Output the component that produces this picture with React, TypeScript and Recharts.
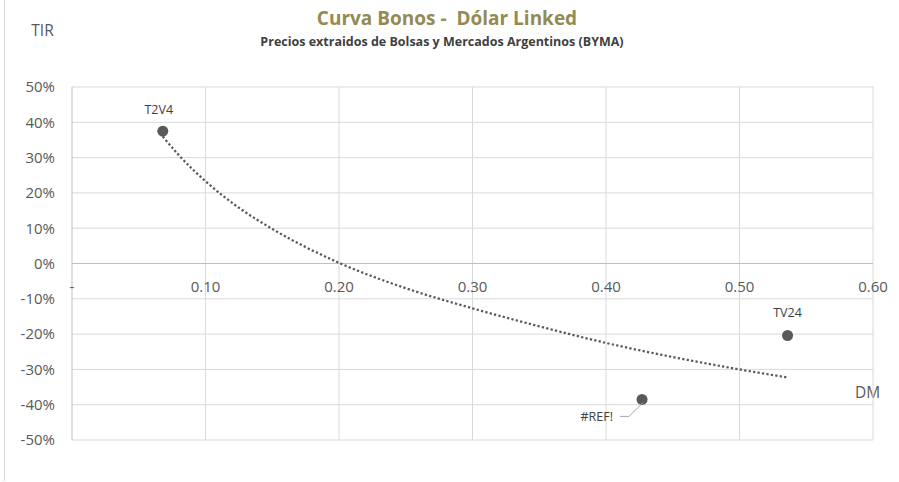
import { ComposedChart, Scatter, Line, XAxis, YAxis, CartesianGrid, ReferenceLine, ReferenceDot } from "recharts";

// bonos dolar linked: duracion modificada (DM) vs TIR
const bondNames = ["T2V4", "#REF!", "TV24"];
const bondDM = [0.068, 0.427, 0.536];
const bondTIR = [0.375, -0.385, -0.204];

// linea de tendencia (log)
const trendDM = [0.068, 0.08, 0.1, 0.125, 0.15, 0.2, 0.25, 0.3, 0.35, 0.4, 0.45, 0.5, 0.536];
const trendTIR = [0.36, 0.307, 0.233, 0.158, 0.098, 0.002, -0.07, -0.127, -0.178, -0.225, -0.265, -0.3, -0.323];

const xTicks = [0, 0.1, 0.2, 0.3, 0.4, 0.5, 0.6];
const yTicks = [-0.5, -0.4, -0.3, -0.2, -0.1, 0, 0.1, 0.2, 0.3, 0.4, 0.5];

const bonds = bondNames.map((name, i) => ({ name, x: bondDM[i], y: bondTIR[i] }));
const trend = trendDM.map((x, i) => ({ x, y: trendTIR[i] }));

const FONT = "'Open Sans', sans-serif";
const GRAY = "#595959";

const labelOffsets: Record<string, { dx: number; dy: number }> = {
    "T2V4": { dx: -4, dy: -17 },
    "TV24": { dx: 0, dy: -19 },
};

function BondDot(props: any) {
    const { cx, cy, payload } = props;
    if (cx == null || cy == null) return null;
    const name = payload.name;
    if (name === "#REF!") {
        return (
            <g>
                <circle cx={cx} cy={cy} r={5.5} fill={GRAY} />
                <polyline points={`${cx - 22},${cy + 17} ${cx - 13},${cy + 17} ${cx + 1},${cy + 3}`} fill="none" stroke="#a6a6a6" strokeWidth={1} />
                <text x={cx - 29} y={cy + 22} textAnchor="end" fontSize={12.5} fontFamily={FONT} fill="#404040">{name}</text>
            </g>
        );
    }
    const off = labelOffsets[name] || { dx: 0, dy: -18 };
    return (
        <g>
            <circle cx={cx} cy={cy} r={5.5} fill={GRAY} />
            <text x={cx + off.dx} y={cy + off.dy} textAnchor="middle" fontSize={12.5} fontFamily={FONT} fill="#404040">{name}</text>
        </g>
    );
}

export default function App() {
    return (
        <div style={{ position: "absolute", left: 0, top: 0, width: 899, height: 482, background: "#fff", fontFamily: FONT }}>
            <div style={{ position: "absolute", left: 4, top: 0, width: 1, height: 481, background: "#d9d9d9" }} />
            <div style={{ position: "absolute", left: 0, width: 894, top: 9, fontSize: 19, lineHeight: "19px", fontWeight: 700, color: "#948a54", textAlign: "center", whiteSpace: "pre" }}>
                {"Curva Bonos -  Dólar Linked"}
            </div>
            <div style={{ position: "absolute", left: 0, width: 884, top: 36, fontSize: 12.5, lineHeight: "12.5px", fontWeight: 700, color: "#404040", textAlign: "center" }}>
                Precios extraidos de Bolsas y Mercados Argentinos (BYMA)
            </div>
            <div style={{ position: "absolute", left: 22, width: 41, top: 23, fontSize: 15.5, lineHeight: "15.5px", color: GRAY, textAlign: "center" }}>TIR</div>
            <div style={{ position: "absolute", left: 847, width: 41, top: 385, fontSize: 15.5, lineHeight: "15.5px", color: GRAY, textAlign: "center" }}>DM</div>
            <ComposedChart width={899} height={482} margin={{ top: 87, right: 26, bottom: 42, left: 0 }}>
                <CartesianGrid stroke="#d9d9d9" strokeWidth={1} vertical={false} />
                <XAxis dataKey="x" type="number" domain={[0, 0.6]} ticks={xTicks} height={0} tick={false} axisLine={false} tickLine={false} allowDataOverflow />
                <YAxis type="number" domain={[-0.5, 0.5]} ticks={yTicks} width={72} axisLine={{ stroke: "#bfbfbf" }} tickLine={false} tickSize={0} tickMargin={17}
                    tick={{ fill: GRAY, fontSize: 15, fontFamily: FONT }}
                    tickFormatter={(v: number) => `${Math.round(v * 100)}%`} />
                {xTicks.slice(1).map((v) => (
                    <ReferenceLine key={`g${v}`} x={v} stroke="#d9d9d9" strokeWidth={1} />
                ))}
                <ReferenceLine y={0} stroke="#bfbfbf" strokeWidth={1} />
                {xTicks.map((v) => (
                    <ReferenceDot key={v} x={v} y={0} r={0} fill="none" stroke="none"
                        label={{ value: v === 0 ? "-" : v.toFixed(2), position: "bottom", offset: 18, fill: GRAY, fontSize: 15, fontFamily: FONT }} />
                ))}
                <Line data={trend} dataKey="y" type="monotone" stroke={GRAY} strokeWidth={2.25} strokeDasharray="2.25 2.25" dot={false} activeDot={false} isAnimationActive={false} />
                <Scatter data={bonds} dataKey="y" shape={<BondDot />} isAnimationActive={false} />
            </ComposedChart>
        </div>
    );
}
